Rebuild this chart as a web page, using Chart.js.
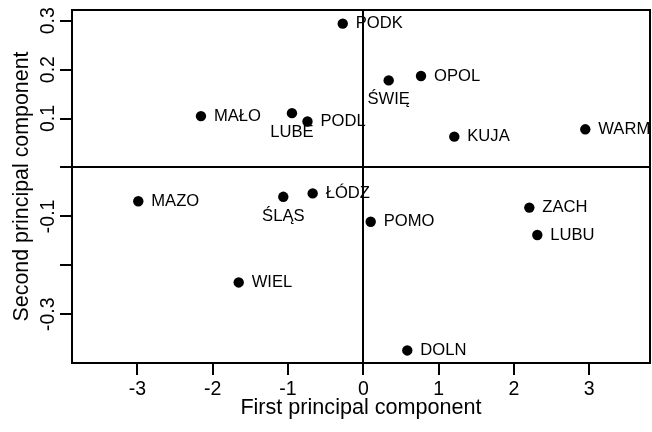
<!DOCTYPE html>
<html><head><meta charset="utf-8">
<script src="https://cdn.jsdelivr.net/npm/chart.js@4"></script>
<style>html,body{margin:0;padding:0;background:#fff}canvas{display:block}</style>
</head><body>
<canvas id="c" width="652" height="432"></canvas>
<script>
const regions = ['PODK','OPOL','ŚWIĘ','MAŁO','LUBE','PODL','KUJA','WARM','MAZO','ŚLĄS','ŁÓDZ','POMO','ZACH','LUBU','WIEL','DOLN'];
const pc1 = [-0.273,0.766,0.337,-2.155,-0.947,-0.741,1.208,2.947,-2.987,-1.062,-0.672,0.098,2.204,2.310,-1.654,0.584];
const pc2 = [0.294,0.187,0.178,0.105,0.111,0.094,0.063,0.078,-0.069,-0.060,-0.053,-0.111,-0.082,-0.138,-0.235,-0.374];
const xTicks = [-3,-2,-1,0,1,2,3];
const xTickLabels = ['-3','-2','-1','0','1','2','3'];
const yTicks = [-0.3,-0.2,-0.1,0,0.1,0.2,0.3];
const yTickLabels = ['-0.3','','-0.1','','0.1','0.2','0.3'];
const labelsBelow = ['ŚWIĘ','LUBE','ŚLĄS'];

const FONT = "'Liberation Sans', Arial, Helvetica, sans-serif";
Chart.defaults.font.family = FONT;
Chart.defaults.color = '#000';

const points = pc1.map((x, i) => ({x: x, y: pc2[i]}));

const boxPlugin = {
  id: 'box',
  beforeDatasetsDraw(chart) {
    const {ctx, chartArea: a} = chart;
    ctx.save();
    ctx.strokeStyle = '#000';
    ctx.lineWidth = 2;
    ctx.strokeRect(a.left, a.top, a.right - a.left, a.bottom - a.top);
    ctx.restore();
  }
};
const labelPlugin = {
  id: 'pointLabels',
  afterDatasetsDraw(chart) {
    const ctx = chart.ctx;
    const meta = chart.getDatasetMeta(0);
    ctx.save();
    ctx.fillStyle = '#000';
    ctx.font = '16.6px ' + FONT;
    ctx.textBaseline = 'middle';
    meta.data.forEach((el, i) => {
      const name = regions[i];
      if (labelsBelow.includes(name)) {
        ctx.textAlign = 'center';
        ctx.fillText(name, el.x, el.y + 19.5);
      } else {
        ctx.textAlign = 'left';
        ctx.fillText(name, el.x + 13, el.y);
      }
    });
    ctx.restore();
  }
};

const gridColor = c => (c.tick && c.tick.value === 0) ? '#000' : 'rgba(0,0,0,0)';

new Chart(document.getElementById('c'), {
  type: 'scatter',
  data: {
    datasets: [{
      data: points,
      pointRadius: 5.2,
      pointHoverRadius: 5.2,
      backgroundColor: '#000',
      borderWidth: 0,
      clip: false
    }]
  },
  options: {
    responsive: false,
    animation: false,
    events: [],
    layout: {autoPadding: false, padding: {top: 10, right: 2, left: 0, bottom: 0}},
    plugins: {legend: {display: false}, tooltip: {enabled: false}},
    scales: {
      x: {
        type: 'linear', position: 'bottom',
        min: -3.867, max: 3.806,
        afterBuildTicks: s => { s.ticks = xTicks.map(v => ({value: v})); },
        afterFit: s => { s.height = 69; s.paddingLeft = 0; s.paddingRight = 0; },
        ticks: {
          font: {size: 19.5}, color: '#000', padding: 3, maxRotation: 0,
          callback: (v, i) => xTickLabels[i]
        },
        grid: {drawOnChartArea: true, color: gridColor, tickColor: '#000', tickLength: 12, lineWidth: 2},
        border: {display: true, color: '#000', width: 2},
        title: {display: true, text: 'First principal component', font: {size: 21.6}, color: '#000', padding: {top: 0, bottom: 10.6}}
      },
      y: {
        type: 'linear', position: 'left',
        min: -0.3997, max: 0.3219,
        afterBuildTicks: s => { s.ticks = yTicks.map(v => ({value: v})); },
        afterFit: s => { s.width = 72; s.paddingTop = 0; s.paddingBottom = 0; },
        ticks: {
          font: {size: 19.5}, color: '#000', padding: -5,
          minRotation: 90, maxRotation: 90, crossAlign: 'center',
          callback: (v, i) => yTickLabels[i]
        },
        grid: {drawOnChartArea: true, color: gridColor, tickColor: '#000', tickLength: 12, lineWidth: 2},
        border: {display: true, color: '#000', width: 2},
        title: {display: true, text: 'Second principal component', font: {size: 21.4}, color: '#000', padding: {top: 9.2, bottom: 0}}
      }
    }
  },
  plugins: [boxPlugin, labelPlugin]
});
</script>
</body></html>
